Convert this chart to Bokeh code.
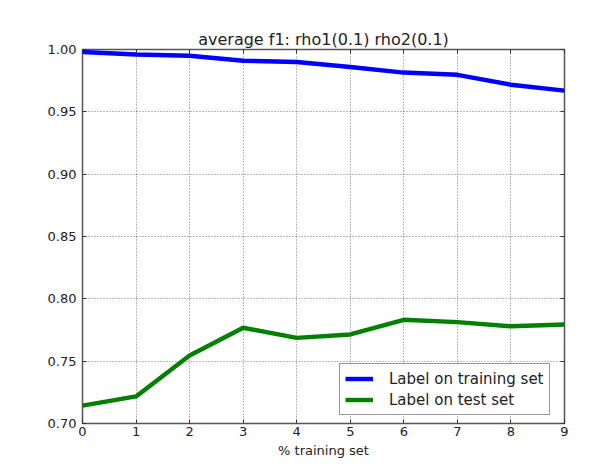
from bokeh.plotting import figure
from bokeh.models import Range1d, LinearAxis, FixedTicker, Legend, LegendItem, NumeralTickFormatter
from bokeh.embed import file_html
from bokeh.resources import INLINE

x_vals = [0, 1, 2, 3, 4, 5, 6, 7, 8, 9]
train_f1 = [0.998, 0.996, 0.995, 0.991, 0.990, 0.986, 0.9815, 0.9797, 0.9717, 0.967]
test_f1 = [0.7144, 0.7217, 0.7545, 0.7768, 0.7687, 0.7714, 0.7832, 0.7813, 0.778, 0.7794]
x_ticks = [0, 1, 2, 3, 4, 5, 6, 7, 8, 9]
y_ticks = [0.70, 0.75, 0.80, 0.85, 0.90, 0.95, 1.00]
title_text = "average f1: rho1(0.1) rho2(0.1)"
x_label = "% training set"
series_labels = ["Label on training set", "Label on test set"]

FONT = "DejaVu Sans"

p = figure(width=608, height=460, output_backend="svg", toolbar_location=None,
           x_range=Range1d(0, 9), y_range=Range1d(0.70, 1.00),
           min_border_left=82, min_border_right=44, min_border_top=49, min_border_bottom=37)

p.title.text = title_text
p.title.align = "center"
p.title.text_font = FONT
p.title.text_font_size = "16px"
p.title.text_font_style = "normal"
p.title.text_color = "#222222"
p.title.standoff = 1

p.background_fill_color = "white"
p.border_fill_color = "white"
p.outline_line_color = "#555555"
p.outline_line_width = 1.5

r1 = p.line(x_vals, train_f1, line_color="#0000ff", line_width=4.4)
r2 = p.line(x_vals, test_f1, line_color="#008000", line_width=4.4)

for ax in (p.xaxis[0], p.yaxis[0]):
    ax.major_tick_in = 4
    ax.major_tick_out = 0
    ax.minor_tick_in = 0
    ax.minor_tick_out = 0
    ax.axis_line_color = None
    ax.major_tick_line_color = "#333333"
    ax.major_label_text_font = FONT
    ax.major_label_text_font_size = "13px"
    ax.major_label_text_color = "#222222"

p.xaxis[0].ticker = FixedTicker(ticks=x_ticks)
p.yaxis[0].ticker = FixedTicker(ticks=y_ticks)
p.yaxis[0].formatter = NumeralTickFormatter(format="0.00")
p.xaxis[0].major_label_standoff = 3
p.yaxis[0].major_label_standoff = 6
p.xaxis[0].axis_label = x_label
p.xaxis[0].axis_label_text_font = FONT
p.xaxis[0].axis_label_text_font_size = "13px"
p.xaxis[0].axis_label_text_font_style = "normal"
p.xaxis[0].axis_label_text_color = "#222222"
p.xaxis[0].axis_label_standoff = 4

top_ax = LinearAxis(ticker=FixedTicker(ticks=x_ticks),
                    major_label_overrides={t: "" for t in x_ticks},
                    major_tick_in=4, major_tick_out=0, minor_tick_in=0, minor_tick_out=0,
                    axis_line_color=None, major_tick_line_color="#333333", major_label_standoff=0)
right_ax = LinearAxis(ticker=FixedTicker(ticks=y_ticks),
                      major_label_overrides={t: "" for t in y_ticks},
                      major_tick_in=4, major_tick_out=0, minor_tick_in=0, minor_tick_out=0,
                      axis_line_color=None, major_tick_line_color="#333333", major_label_standoff=0)
p.add_layout(top_ax, "above")
p.add_layout(right_ax, "right")

p.xgrid.ticker = FixedTicker(ticks=x_ticks)
p.ygrid.ticker = FixedTicker(ticks=y_ticks)
for g in (p.xgrid[0], p.ygrid[0]):
    g.grid_line_color = "#000000"
    g.grid_line_alpha = 0.55
    g.grid_line_dash = "1 2"
    g.grid_line_width = 1

legend = Legend(items=[LegendItem(label=series_labels[0], renderers=[r1]),
                       LegendItem(label=series_labels[1], renderers=[r2])],
                location=(257, 8))
legend.label_text_font = FONT
legend.label_text_font_size = "15px"
legend.label_text_color = "#222222"
legend.border_line_color = "#333333"
legend.border_line_width = 1.2
legend.padding = 5
legend.spacing = 2
legend.label_height = 19
legend.glyph_height = 19
legend.glyph_width = 28
legend.label_standoff = 16
legend.margin = 0
legend.background_fill_color = "white"
p.add_layout(legend, "center")

open("out.html", "w").write(file_html(p, INLINE))
